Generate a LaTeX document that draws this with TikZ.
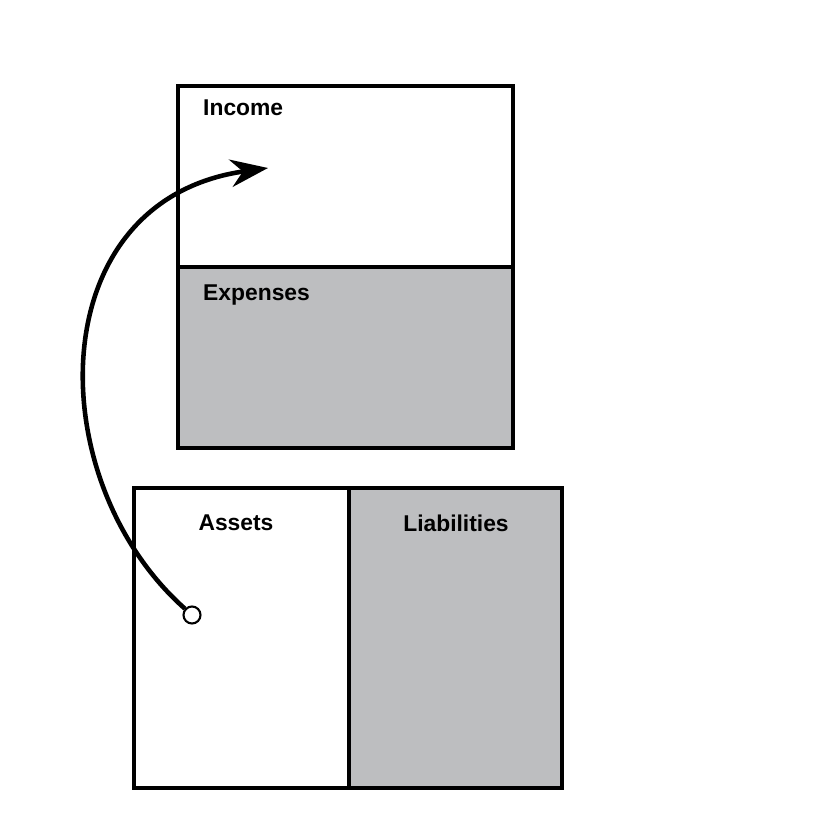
\documentclass[tikz,border=0pt]{standalone}
\usepackage{fontspec}
\setmainfont{Liberation Sans}
\usepackage{xcolor}
\usetikzlibrary{arrows.meta}
\definecolor{boxgray}{HTML}{BDBEC0}
\begin{document}
\begin{tikzpicture}[x=0.02cm,y=-0.02cm]
                \useasboundingbox (0,0) rectangle (831,831);
                \tikzset{lbl/.style={font=\fontsize{13}{15}\selectfont\bfseries}}
                % Income statement
                \draw[line width=2pt] (178,86) rectangle (513,267);
                \draw[line width=2pt, fill=boxgray] (178,267) rectangle (513,448);
                \node[lbl, anchor=west] (income) at (197,108) {Income};
                \node[lbl, anchor=west] (expenses) at (197,295) {Expenses};
                
                % Balance sheet
                \draw[line width=2pt] (134,488) rectangle (349,788);
                \draw[line width=2pt, fill=boxgray] (349,488) rectangle (562,788);
                \node[lbl] (assets) at (236,523) {Assets};
                \node[lbl] (liabilities) at (456,523) {Liabilities};
                
                % Arrow from assets to income
                \node[circle, draw, line width=1.2pt, fill=white, inner sep=0pt, minimum size=0.34cm] (start) at (192,615) {};
                \coordinate (tip) at (268,168);
                \draw[line width=2.6pt, -{Stealth[length=0.75cm,width=0.55cm]}] (start) .. controls (40,480) and (40,200) .. (tip);
            \end{tikzpicture}
\end{document}
